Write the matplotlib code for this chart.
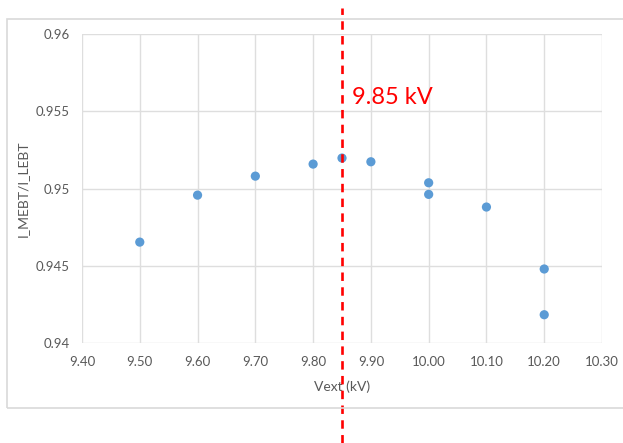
import numpy as np
import matplotlib
matplotlib.use('Agg')
import matplotlib.pyplot as plt
from matplotlib.patches import Rectangle

plt.rcParams['font.family'] = ['Lato', 'DejaVu Sans']

# measured points
vext = [9.50, 9.60, 9.70, 9.80, 9.85, 9.90, 10.00, 10.00, 10.10, 10.20, 10.20]
ratio = [0.94653, 0.94957, 0.95080, 0.95158, 0.95197, 0.95173,
         0.95037, 0.94962, 0.94880, 0.94479, 0.94183]

xticks = [9.40, 9.50, 9.60, 9.70, 9.80, 9.90, 10.00, 10.10, 10.20, 10.30]
xtick_labels = ['9.40', '9.50', '9.60', '9.70', '9.80', '9.90', '10.00', '10.10', '10.20', '10.30']
yticks = [0.94, 0.945, 0.95, 0.955, 0.96]
ytick_labels = ['0.94', '0.945', '0.95', '0.955', '0.96']

v_opt = 9.85
v_opt_label = '9.85 kV'

W, H = 623, 443
fig = plt.figure(figsize=(W / 100, H / 100), dpi=100)
ax = fig.add_axes([82 / W, 1 - 343 / H, 520 / W, 309 / H])

# chart frame (right edge is cut off in the original)
fig.patches.append(Rectangle((7 / W, 1 - 408 / H), 630 / W, 389 / H,
                             transform=fig.transFigure, fill=False,
                             edgecolor='#d9d9d9', lw=1.2))

ax.scatter(vext, ratio, s=44, color='#5b9bd5', zorder=3, edgecolors='none')

ax.set_xlim(9.40, 10.30)
ax.set_ylim(0.94, 0.96)
ax.set_xticks(xticks)
ax.set_xticklabels(xtick_labels)
ax.set_yticks(yticks)
ax.set_yticklabels(ytick_labels)
ax.grid(True, color='#dedede', lw=1)
ax.set_axisbelow(True)
for s in ax.spines.values():
    s.set_visible(False)
ax.tick_params(length=0, labelsize=9.5, labelcolor='#595959', pad=9)

ax.set_xlabel('Vext (kV)', fontsize=10, color='#595959', labelpad=9)
ax.set_ylabel('I_MEBT/I_LEBT', fontsize=10, color='#595959', labelpad=5)

# optimum marker line, running past the chart
ax.axvline(v_opt, ymin=-100 / 309, ymax=335 / 309, clip_on=False,
           color='red', lw=1.9, dashes=(3.2, 2.4), zorder=4)
ax.text(9.867, 0.95546, v_opt_label, color='red', fontsize=17,
        ha='left', va='baseline')

fig.savefig('out.png', dpi=100)
